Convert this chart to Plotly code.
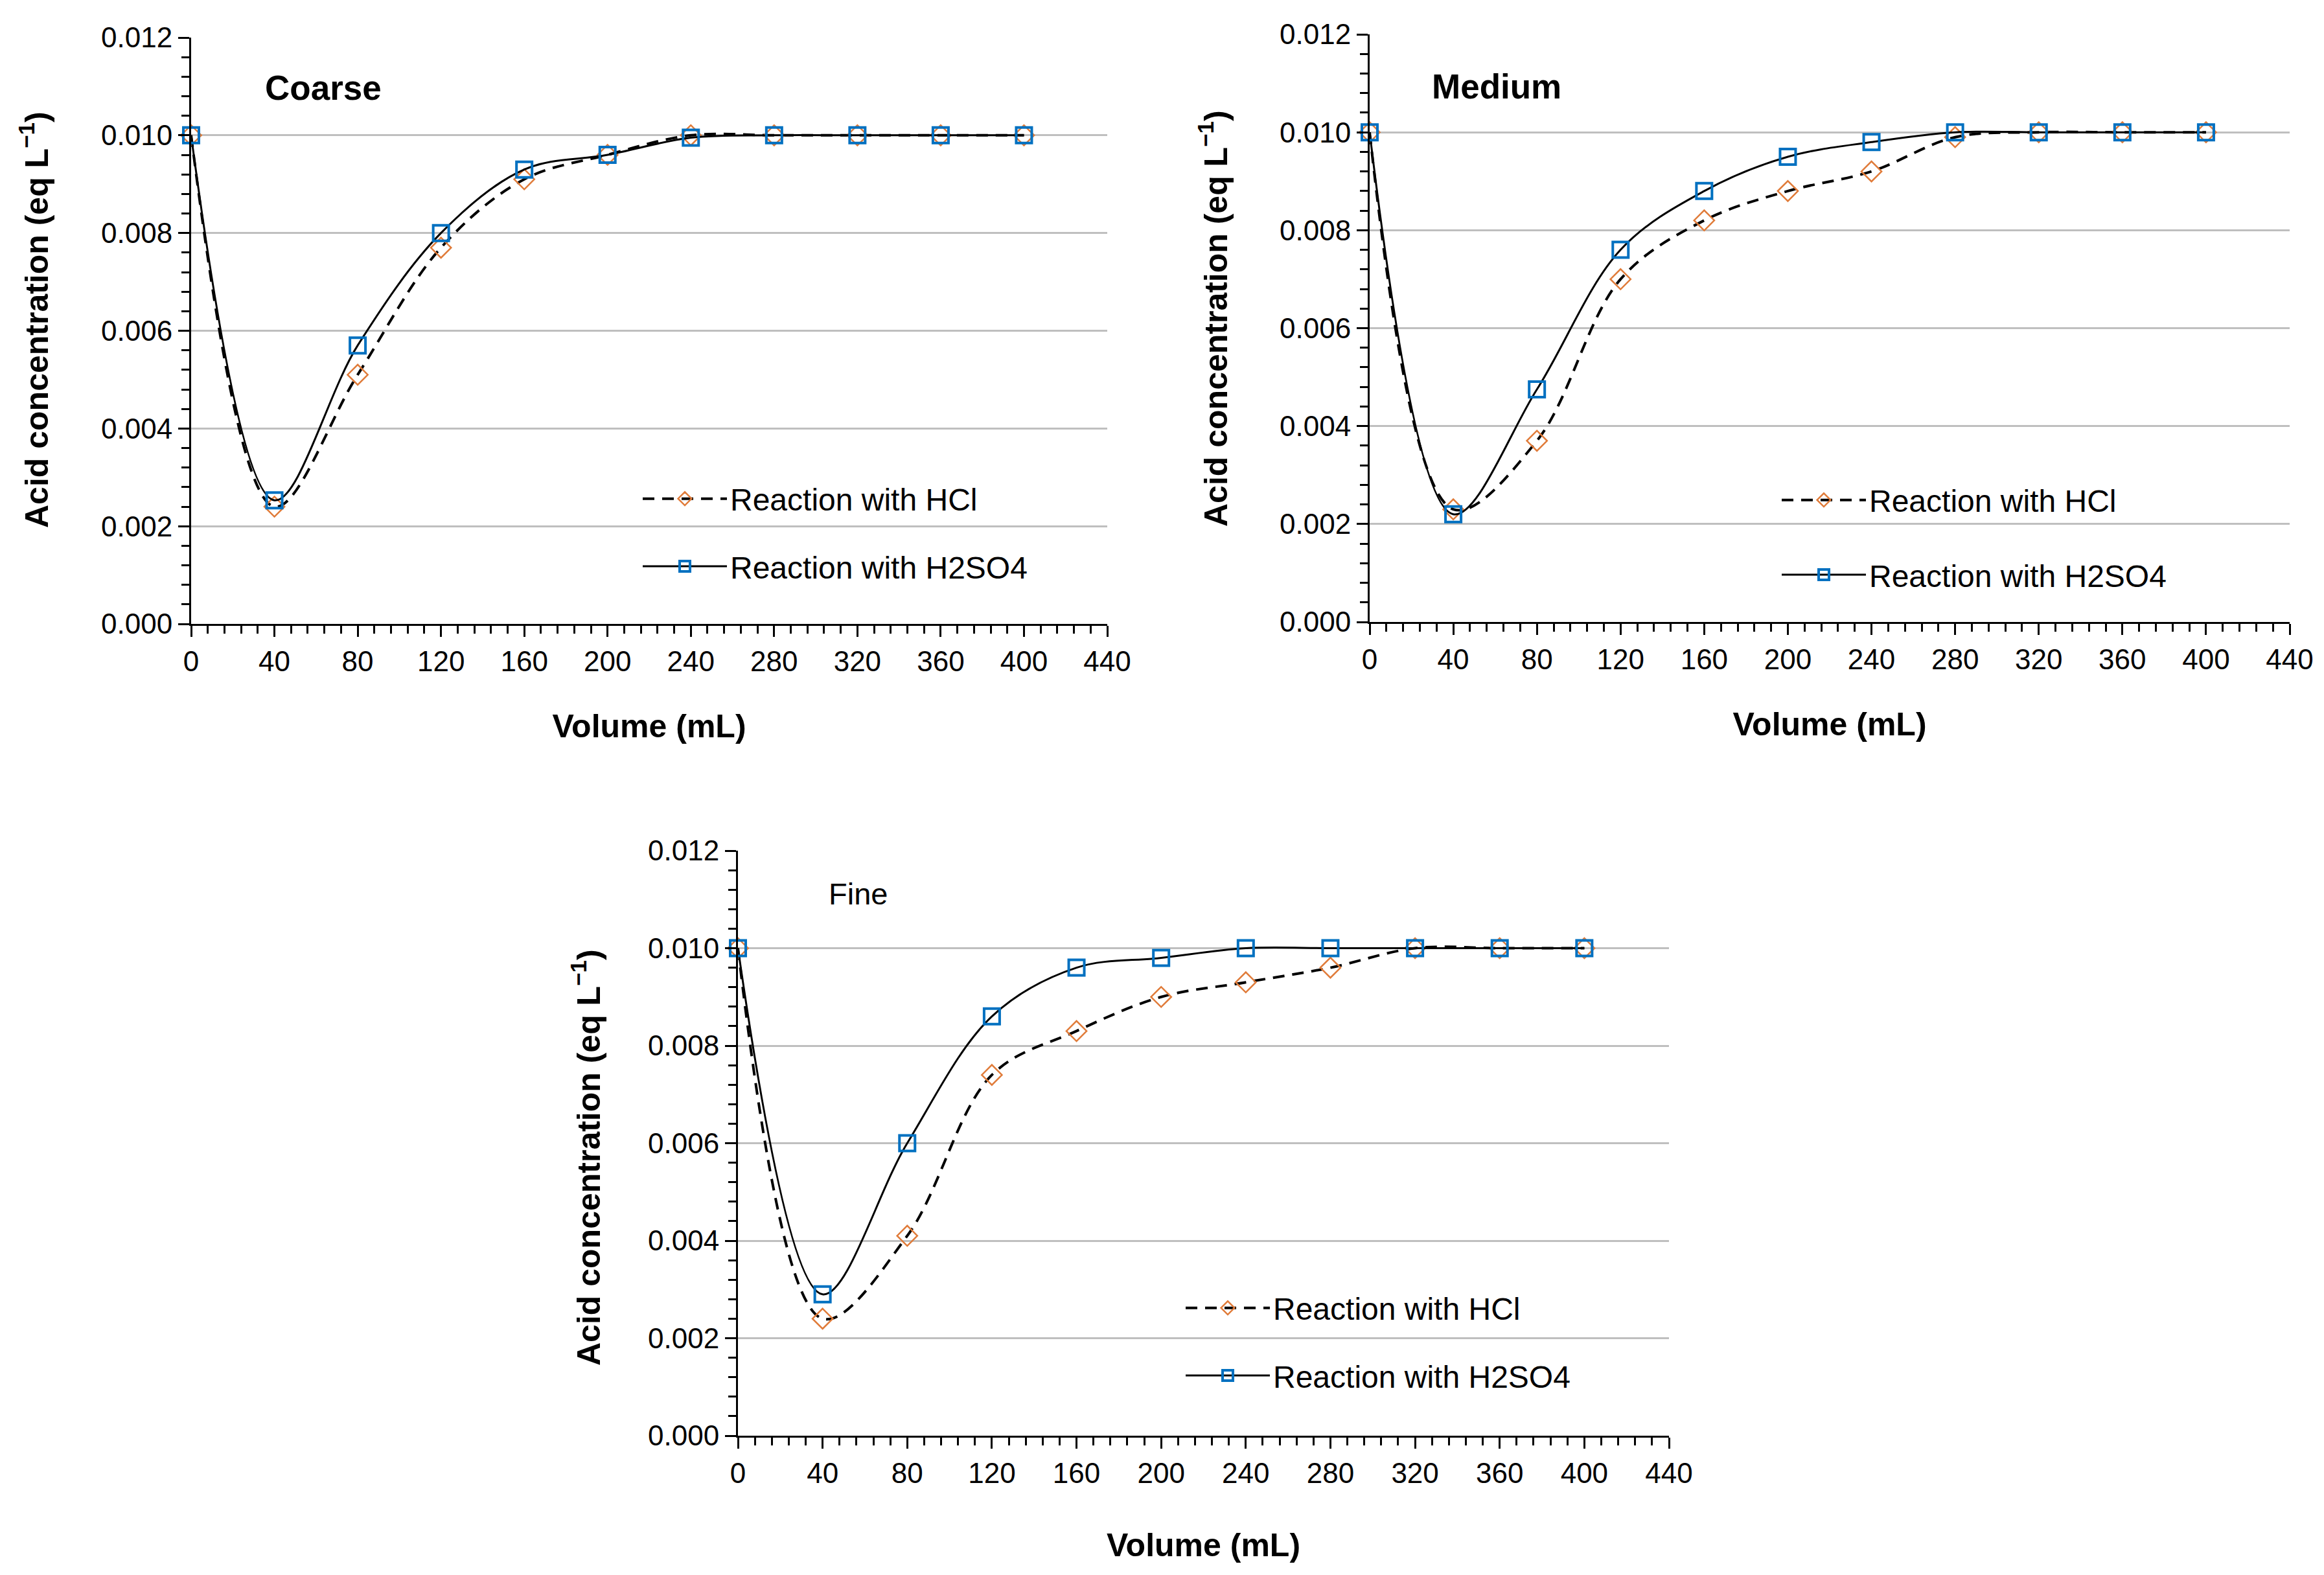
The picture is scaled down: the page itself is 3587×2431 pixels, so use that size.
import plotly.graph_objects as go

W, H = 3587, 2431

volume = [0, 40, 80, 120, 160, 200, 240, 280, 320, 360, 400]

coarse_hcl = [0.0100, 0.0024, 0.0051, 0.0077, 0.0091, 0.0096, 0.0100, 0.0100, 0.0100, 0.0100, 0.0100]
coarse_h2so4 = [0.0100, 0.00253, 0.0057, 0.0080, 0.0093, 0.0096, 0.00995, 0.0100, 0.0100, 0.0100, 0.0100]
medium_hcl = [0.0100, 0.0023, 0.0037, 0.0070, 0.0082, 0.0088, 0.0092, 0.0099, 0.0100, 0.0100, 0.0100]
medium_h2so4 = [0.0100, 0.0022, 0.00475, 0.0076, 0.0088, 0.0095, 0.0098, 0.0100, 0.0100, 0.0100, 0.0100]
fine_hcl = [0.0100, 0.0024, 0.0041, 0.0074, 0.0083, 0.0090, 0.0093, 0.0096, 0.0100, 0.0100, 0.0100]
fine_h2so4 = [0.0100, 0.0029, 0.0060, 0.0086, 0.0096, 0.0098, 0.0100, 0.0100, 0.0100, 0.0100, 0.0100]

panel_names = ["Coarse", "Medium", "Fine"]
series_names = ["Reaction with HCl", "Reaction with H2SO4"]
x_title = "<b>Volume (mL)</b>"
y_title = "<b>Acid concentration (eq L<sup>\u22121</sup>)</b>"

FONT = "Liberation Sans, Arial, sans-serif"
BLUE = "#0070C0"
ORANGE = "#E07B39"

# plot-area pixel boxes (left, right, top, bottom)
boxes = [(295, 1709, 58, 963), (2114, 3534, 53, 960), (1139, 2576, 1313, 2216)]

data = [(coarse_hcl, coarse_h2so4), (medium_hcl, medium_h2so4), (fine_hcl, fine_h2so4)]

fig = go.Figure()

for i, (hcl, h2so4) in enumerate(data):
    sfx = "" if i == 0 else str(i + 1)
    leg = "legend" + sfx
    fig.add_trace(go.Scatter(
        x=volume, y=hcl, mode="lines+markers", name=series_names[0],
        xaxis="x" + sfx, yaxis="y" + sfx, legend=leg, legendgroup=f"hcl{i}",
        line=dict(color="black", width=4, dash="18px,12px", shape="spline", smoothing=1),
        marker=dict(symbol="diamond-open", size=24, color=ORANGE, line=dict(width=2.5, color=ORANGE)),
        cliponaxis=False,
    ))
    fig.add_trace(go.Scatter(
        x=volume, y=h2so4, mode="lines+markers", name=series_names[1],
        xaxis="x" + sfx, yaxis="y" + sfx, legend=leg, legendgroup=f"h2so4{i}",
        line=dict(color="black", width=3, shape="spline", smoothing=1),
        marker=dict(symbol="square-open", size=24, color=BLUE, line=dict(width=4, color=BLUE)),
        cliponaxis=False,
    ))

layout = dict(
    width=W, height=H,
    margin=dict(l=0, r=0, t=0, b=0, autoexpand=False),
    paper_bgcolor="white", plot_bgcolor="white",
    font=dict(family=FONT, color="black", size=44),
    showlegend=True,
)

label_pos = [(35, 0.01097, True), (29.2, 0.01093, True), (42.3, 0.01112, False)]
legend_px = [(987, 732, 39), (2745, 734, 50), (1825, 1981, 39)]
ytitle_px = [(53, 494), (1873, 492), (905, 1787)]
xtitle_standoff = [60, 60, 71]

annotations = []
for i, (l, r, t, b) in enumerate(boxes):
    sfx = "" if i == 0 else str(i + 1)
    xa = dict(
        domain=[l / W, r / W], anchor="y" + sfx, automargin=False,
        range=[0, 440], tick0=0, dtick=40,
        ticks="outside", ticklen=17, tickwidth=3, tickcolor="black",
        showline=True, linecolor="black", linewidth=3,
        showgrid=False, zeroline=False,
        tickfont=dict(size=44, family=FONT, color="black"),
        minor=dict(dtick=8, tick0=0, ticks="outside", ticklen=12, tickwidth=3, tickcolor="black", showgrid=False),
        title=dict(text=x_title, font=dict(size=50, family=FONT, color="black"), standoff=xtitle_standoff[i]),
    )
    ya = dict(
        domain=[1 - b / H, 1 - t / H], anchor="x" + sfx, automargin=False,
        range=[0, 0.012], tick0=0, dtick=0.002, tickformat=".3f",
        ticks="outside", ticklen=17, tickwidth=3, tickcolor="black",
        showline=True, linecolor="black", linewidth=3,
        showgrid=True, gridcolor="#BFBFBF", gridwidth=3, zeroline=False,
        tickfont=dict(size=44, family=FONT, color="black"),
        minor=dict(dtick=0.0004, tick0=0, ticks="outside", ticklen=12, tickwidth=3, tickcolor="black", showgrid=False),
    )
    layout["xaxis" + sfx] = xa
    layout["yaxis" + sfx] = ya

    lx, ly, gap = legend_px[i]
    layout["legend" + sfx] = dict(
        x=lx / W, y=1 - ly / H, xanchor="left", yanchor="top",
        xref="paper", yref="paper",
        font=dict(size=48, family=FONT, color="black"),
        bgcolor="rgba(0,0,0,0)", itemwidth=130, tracegroupgap=gap,
    )

    tx, ty = ytitle_px[i]
    annotations.append(dict(
        x=tx / W, y=1 - ty / H, xref="paper", yref="paper", text=y_title,
        showarrow=False, xanchor="center", yanchor="middle", textangle=-90,
        font=dict(size=50, family=FONT, color="black"),
    ))

    px_, py_, bold = label_pos[i]
    txt = f"<b>{panel_names[i]}</b>" if bold else panel_names[i]
    annotations.append(dict(
        x=px_, y=py_, xref="x" + sfx, yref="y" + sfx, text=txt,
        showarrow=False, xanchor="left", yanchor="middle",
        font=dict(size=53 if bold else 47, family=FONT, color="black"),
    ))

layout["annotations"] = annotations
fig.update_layout(**layout)

fig.write_html("out.html", config={"displayModeBar": False},
               post_script="document.body.style.margin='0';")
